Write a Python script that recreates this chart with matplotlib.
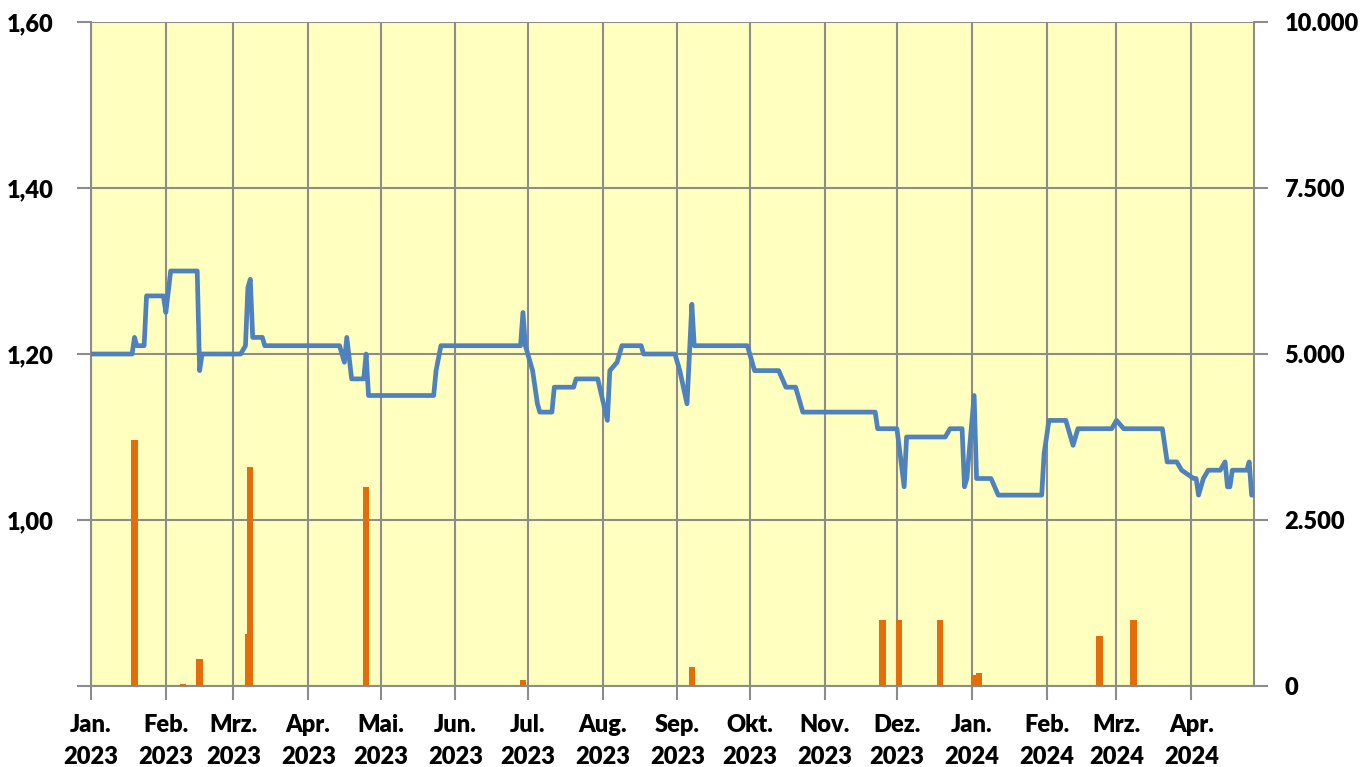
import pandas as pd
import numpy as np
import matplotlib
matplotlib.use('Agg')
import matplotlib.pyplot as plt
import matplotlib.dates as mdates
from matplotlib.ticker import FuncFormatter

plt.rcParams['font.family'] = ['Lato', 'DejaVu Sans']
plt.rcParams['font.weight'] = 'heavy'

# price line (left axis), points where the value changes
line_dates = ['2023-01-01', '2023-01-18', '2023-01-19', '2023-01-20', '2023-01-23', '2023-01-24',
              '2023-01-31', '2023-02-01', '2023-02-03', '2023-02-14', '2023-02-15', '2023-02-16',
              '2023-03-04', '2023-03-06', '2023-03-07', '2023-03-08', '2023-03-09', '2023-03-13',
              '2023-03-14', '2023-04-14', '2023-04-16', '2023-04-17', '2023-04-19', '2023-04-24',
              '2023-04-25', '2023-04-26', '2023-05-23', '2023-05-24', '2023-05-26', '2023-06-28',
              '2023-06-29', '2023-06-30', '2023-07-03', '2023-07-05', '2023-07-06', '2023-07-11',
              '2023-07-12', '2023-07-20', '2023-07-21', '2023-07-30', '2023-08-03', '2023-08-04',
              '2023-08-07', '2023-08-09', '2023-08-17', '2023-08-18', '2023-08-31', '2023-09-02',
              '2023-09-05', '2023-09-07', '2023-09-08', '2023-09-30', '2023-10-03', '2023-10-13',
              '2023-10-16', '2023-10-20', '2023-10-23', '2023-11-22', '2023-11-23', '2023-12-01',
              '2023-12-04', '2023-12-05', '2023-12-21', '2023-12-23', '2023-12-28', '2023-12-29',
              '2023-12-30', '2024-01-02', '2024-01-03', '2024-01-09', '2024-01-12', '2024-01-30',
              '2024-01-31', '2024-02-02', '2024-02-09', '2024-02-12', '2024-02-14', '2024-02-28',
              '2024-03-01', '2024-03-04', '2024-03-20', '2024-03-22', '2024-03-26', '2024-03-28',
              '2024-04-02', '2024-04-03', '2024-04-04', '2024-04-06', '2024-04-08', '2024-04-13',
              '2024-04-15', '2024-04-16', '2024-04-17', '2024-04-18', '2024-04-24', '2024-04-25',
              '2024-04-26', '2024-04-27']
line_values = [1.20, 1.20, 1.22, 1.21, 1.21, 1.27,
               1.27, 1.25, 1.30, 1.30, 1.18, 1.20,
               1.20, 1.21, 1.28, 1.29, 1.22, 1.22,
               1.21, 1.21, 1.19, 1.22, 1.17, 1.17,
               1.20, 1.15, 1.15, 1.18, 1.21, 1.21,
               1.25, 1.21, 1.18, 1.14, 1.13, 1.13,
               1.16, 1.16, 1.17, 1.17, 1.12, 1.18,
               1.19, 1.21, 1.21, 1.20, 1.20, 1.18,
               1.14, 1.26, 1.21, 1.21, 1.18, 1.18,
               1.16, 1.16, 1.13, 1.13, 1.11, 1.11,
               1.04, 1.10, 1.10, 1.11, 1.11, 1.04,
               1.05, 1.15, 1.05, 1.05, 1.03, 1.03,
               1.08, 1.12, 1.12, 1.09, 1.11, 1.11,
               1.12, 1.11, 1.11, 1.07, 1.07, 1.06,
               1.05, 1.05, 1.03, 1.05, 1.06, 1.06,
               1.07, 1.04, 1.04, 1.06, 1.06, 1.07,
               1.03, 1.03]

# volume bars (right axis)
bar_dates = ['2023-01-19', '2023-02-08', '2023-02-15', '2023-03-07', '2023-03-08', '2023-04-25',
             '2023-06-29', '2023-09-07', '2023-11-25', '2023-12-02', '2023-12-19', '2024-01-02',
             '2024-01-04', '2024-02-23', '2024-03-08']
bar_values = [3700, 30, 400, 780, 3300, 3000,
              90, 290, 1000, 1000, 1000, 170,
              200, 750, 1000]

month_names = ['Jan.', 'Feb.', 'Mrz.', 'Apr.', 'Mai.', 'Jun.', 'Jul.', 'Aug.',
               'Sep.', 'Okt.', 'Nov.', 'Dez.']

line_x = pd.to_datetime(line_dates)
bar_x = pd.to_datetime(bar_dates)

grid_col = '#8c8c8c'
fig = plt.figure(figsize=(13.61, 7.67), dpi=100)
ax = fig.add_axes([0.0669, 0.1056, 0.8545, 0.8657])
ax.set_facecolor('#ffffbf')

# bars on the base axes (right scale), so the grid sits below them
ax.bar(bar_x, bar_values, width=2.6, color='#e46c0a', zorder=3)
ax.set_ylim(0, 10000)
ax.set_yticks([0, 2500, 5000, 7500, 10000])
ax.yaxis.set_major_formatter(FuncFormatter(lambda v, p: f'{v:,.0f}'.replace(',', '.')))

start = pd.Timestamp('2023-01-01')
end = pd.Timestamp('2024-04-27')
ax.set_xlim(start, end)
months = pd.date_range(start, end, freq='MS')
ax.set_xticks(months)
ax.set_xticklabels([f'{month_names[m.month - 1]}\n{m.year}' for m in months],
                   linespacing=1.55)

ax.set_axisbelow(True)
ax.grid(True, color=grid_col, linewidth=1.5)
for s in ['left', 'right', 'bottom']:
    ax.spines[s].set_color(grid_col)
    ax.spines[s].set_linewidth(1.5)
ax.spines['top'].set_visible(False)

# line on the twin axes (left scale)
ax2 = ax.twinx()
ax2.plot(line_x, line_values, color='#4f81bd', linewidth=3.4, solid_joinstyle='round')
ax2.set_ylim(0.80, 1.60)
ax2.set_yticks([0.80, 1.00, 1.20, 1.40, 1.60])
ax2.yaxis.set_major_formatter(FuncFormatter(lambda v, p: '' if v < 0.9 else f'{v:.2f}'.replace('.', ',')))
for s in ax2.spines.values():
    s.set_visible(False)

# swap sides: volume scale right, price scale left
ax.yaxis.tick_right()
ax2.yaxis.tick_left()

ax.tick_params(axis='x', length=10, width=1.5, color=grid_col, labelsize=17, pad=10)
ax.tick_params(axis='y', length=10, width=1.5, color=grid_col, labelsize=17, pad=12)
ax2.tick_params(axis='y', length=10, width=1.5, color=grid_col, labelsize=17, pad=17)

fig.savefig('out.png', dpi=100)
